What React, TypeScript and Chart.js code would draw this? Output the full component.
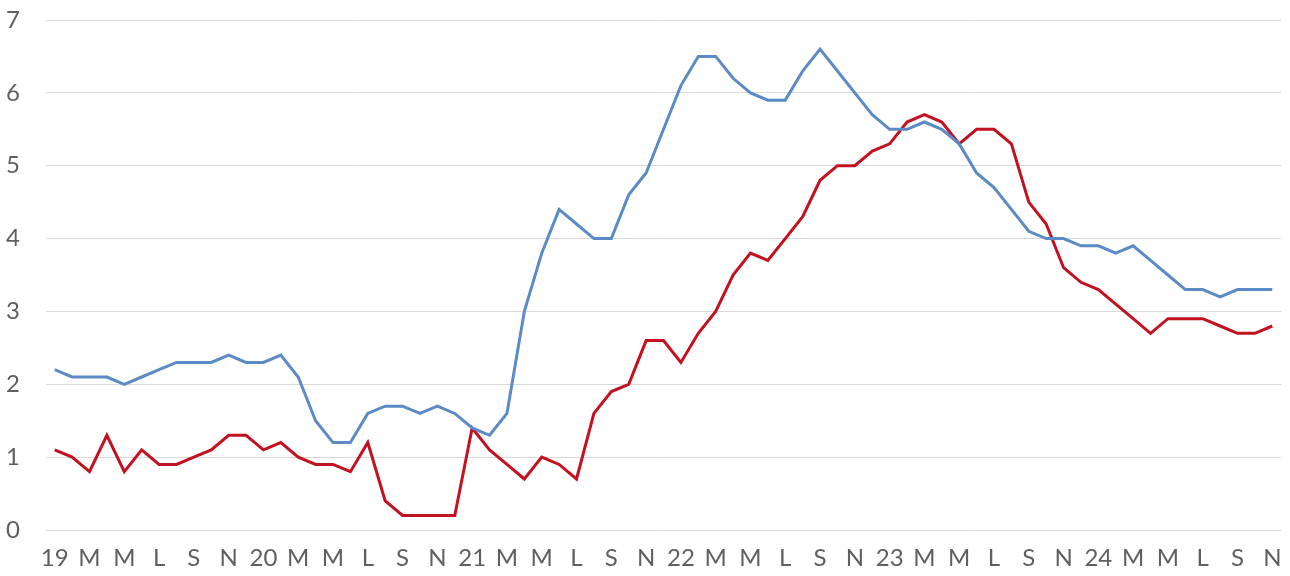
import React, { useEffect, useRef } from "react";
import { Chart, registerables } from "chart.js";

Chart.register(...registerables);

const monthLetters = ["G", "F", "M", "A", "M", "G", "L", "A", "S", "O", "N", "D"];
const years = ["19", "20", "21", "22", "23", "24"];

const blueSeries = [
  2.2, 2.1, 2.1, 2.1, 2.0, 2.1, 2.2, 2.3, 2.3, 2.3, 2.4, 2.3,
  2.3, 2.4, 2.1, 1.5, 1.2, 1.2, 1.6, 1.7, 1.7, 1.6, 1.7, 1.6,
  1.4, 1.3, 1.6, 3.0, 3.8, 4.4, 4.2, 4.0, 4.0, 4.6, 4.9, 5.5,
  6.1, 6.5, 6.5, 6.2, 6.0, 5.9, 5.9, 6.3, 6.6, 6.3, 6.0, 5.7,
  5.5, 5.5, 5.6, 5.5, 5.3, 4.9, 4.7, 4.4, 4.1, 4.0, 4.0, 3.9,
  3.9, 3.8, 3.9, 3.7, 3.5, 3.3, 3.3, 3.2, 3.3, 3.3, 3.3,
];

const redSeries = [
  1.1, 1.0, 0.8, 1.3, 0.8, 1.1, 0.9, 0.9, 1.0, 1.1, 1.3, 1.3,
  1.1, 1.2, 1.0, 0.9, 0.9, 0.8, 1.2, 0.4, 0.2, 0.2, 0.2, 0.2,
  1.4, 1.1, 0.9, 0.7, 1.0, 0.9, 0.7, 1.6, 1.9, 2.0, 2.6, 2.6,
  2.3, 2.7, 3.0, 3.5, 3.8, 3.7, 4.0, 4.3, 4.8, 5.0, 5.0, 5.2,
  5.3, 5.6, 5.7, 5.6, 5.3, 5.5, 5.5, 5.3, 4.5, 4.2, 3.6, 3.4,
  3.3, 3.1, 2.9, 2.7, 2.9, 2.9, 2.9, 2.8, 2.7, 2.7, 2.8,
];

const yTicks = [0, 1, 2, 3, 4, 5, 6, 7];

const categories: string[] = [];
years.forEach((yr) => {
  monthLetters.forEach((m, i) => {
    categories.push(i === 0 ? yr : m);
  });
});
const labels = categories.slice(0, blueSeries.length);

export default function App() {
  const canvasRef = useRef<HTMLCanvasElement | null>(null);

  useEffect(() => {
    if (!canvasRef.current) return;
    const font = { family: "Lato, 'Open Sans', sans-serif", size: 24, lineHeight: 1 };
    const chart = new Chart(canvasRef.current, {
      type: "line",
      data: {
        labels,
        datasets: [
          {
            data: blueSeries,
            borderColor: "#5B8BC6",
            borderWidth: 3,
            pointRadius: 0,
            tension: 0,
            fill: false,
          },
          {
            data: redSeries,
            borderColor: "#C3111F",
            borderWidth: 3,
            pointRadius: 0,
            tension: 0,
            fill: false,
          },
        ],
      },
      options: {
        animation: false,
        responsive: false,
        maintainAspectRatio: false,
        layout: { padding: { left: 6, right: 9, top: 20, bottom: 4 } },
        plugins: { legend: { display: false }, tooltip: { enabled: false } },
        scales: {
          x: {
            offset: true,
            grid: { display: false, drawTicks: false },
            border: { display: false },
            ticks: {
              autoSkip: false,
              maxRotation: 0,
              padding: 16,
              color: "#5F5F5F",
              font,
              callback: (_v: any, i: number) => (i % 2 === 0 ? labels[i] : ""),
            },
            afterFit: (s: any) => {
              s.height = 42;
              s.paddingLeft = 0;
              s.paddingRight = 0;
            },
          },
          y: {
            min: 0,
            max: 7,
            afterBuildTicks: (s: any) => {
              s.ticks = yTicks.map((v) => ({ value: v }));
            },
            grid: { color: "#D9D9D9", lineWidth: 1, drawTicks: false },
            border: { display: false },
            ticks: {
              color: "#5F5F5F",
              font,
              crossAlign: "far",
              padding: 10,
            },
            afterFit: (s: any) => {
              s.width = 40;
              s.paddingTop = 0;
              s.paddingBottom = 0;
            },
          },
        },
      },
    });
    return () => chart.destroy();
  }, []);

  return (
    <div style={{ position: "fixed", left: 0, top: 0, width: 1290, height: 576, background: "#fff" }}>
      <canvas ref={canvasRef} width={1290} height={576} style={{ width: 1290, height: 576 }} />
    </div>
  );
}
